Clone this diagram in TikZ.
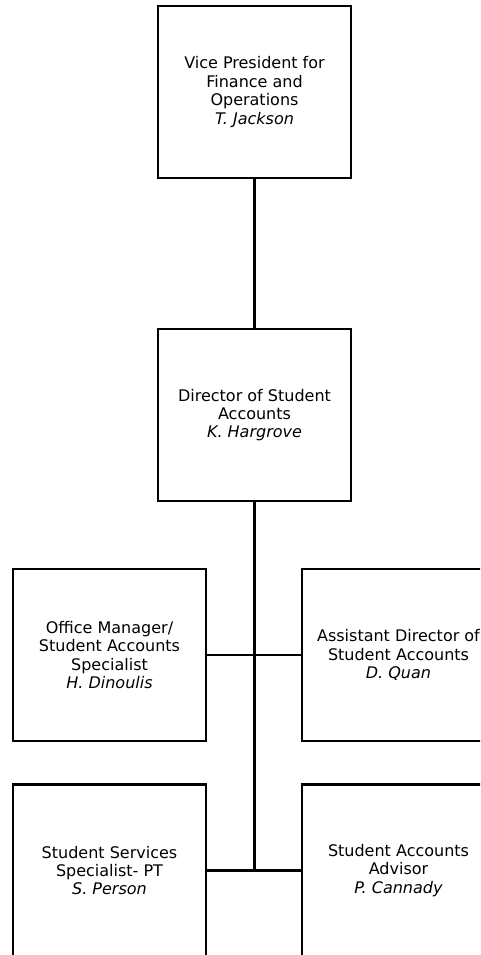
\documentclass[tikz,border=0pt]{standalone}
\usepackage{fontspec}
\setmainfont{DejaVu Sans}
\begin{document}
\begin{tikzpicture}[x=1pt,y=-1pt,
  orgbox/.style={draw=black,line width=2.2pt,fill=white,minimum width=193pt,minimum height=172pt,
    inner sep=0pt,align=center,font=\fontsize{16}{18.4}\selectfont},
  conn/.style={draw=black,line width=2.2pt}]
\useasboundingbox (0,0) rectangle (480,955);
\clip (0,0) rectangle (480,955);
\node[orgbox] (vp) at (254.5,92) {Vice President for\\Finance and\\Operations\\\textit{T. Jackson}};
\node[orgbox] (dir) at (254.5,415) {Director of Student\\Accounts\\\textit{K. Hargrove}};
\node[orgbox] (om) at (109.5,655) {Office Manager/\\Student Accounts\\Specialist\\\textit{H. Dinoulis}};
\node[orgbox] (ad) at (398.5,655) {Assistant Director of\\Student Accounts\\\textit{D. Quan}};
\node[orgbox] (ss) at (109.5,870.5) {Student Services\\Specialist- PT\\\textit{S. Person}};
\node[orgbox] (sa) at (398.5,870.5) {Student Accounts\\Advisor\\\textit{P. Cannady}};
\coordinate (j2) at (254.5,871);
\draw[conn] (vp.south) -- (dir.north);
\draw[conn] (dir.south) -- (j2);
\draw[conn] (om.east) -- (ad.west);
\draw[conn] (ss.east) -- (sa.west);
\end{tikzpicture}
\end{document}
